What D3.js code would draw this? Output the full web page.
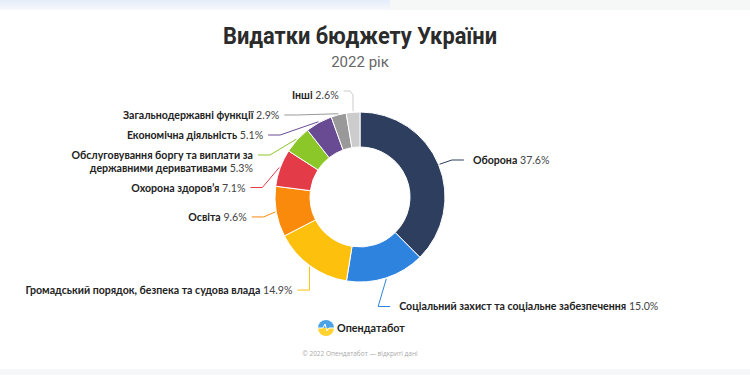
<!DOCTYPE html>
<html lang="uk">
<head>
<meta charset="UTF-8">
<title>Видатки бюджету України</title>
<script src="https://d3js.org/d3.v7.min.js"></script>
<style>
    body { margin: 0; background: #fff; }
    svg { display: block; }
    .title { font-family: Roboto, sans-serif; font-weight: 700; font-size: 23px; fill: #2b2b2b; }
    .subtitle { font-family: Roboto, sans-serif; font-size: 15px; fill: #666; }
    .lbl { font-family: Lato, sans-serif; font-size: 10.6px; fill: #222; }
    .lbl .name { font-weight: 700; }
    .lbl .pct { fill: #444; }
    .connector { fill: none; stroke-width: 1; }
    .brand { font-family: Lato, sans-serif; font-weight: 700; font-size: 10.8px; fill: #1e1e1e; }
    .copy { font-family: "Open Sans", sans-serif; font-size: 6.5px; fill: #aaa; }
</style>
</head>
<body>
<div id="chart"></div>
<script>
    // data
    const categories = [
        "Оборона",
        "Соціальний захист та соціальне забезпечення",
        "Громадський порядок, безпека та судова влада",
        "Освіта",
        "Охорона здоров’я",
        "Обслуговування боргу та виплати за державними деривативами",
        "Економічна діяльність",
        "Загальнодержавні функції",
        "Інші"
    ];
    const shares = [37.6, 15.0, 14.9, 9.6, 7.1, 5.3, 5.1, 2.9, 2.6];
    const colors = ["#2d3e5e", "#2d83dd", "#fdc10d", "#f98a0c", "#e43b49",
                    "#8cc72a", "#694b94", "#999999", "#cccccc"];

    const width = 750, height = 375;
    const cx = 360, cy = 197;
    const outerR = 85, innerR = 50;
    const labelR = 115;

    const svg = d3.select("#chart").append("svg")
        .attr("width", width).attr("height", height);

    // page bands
    const defs = svg.append("defs");
    const g1 = defs.append("linearGradient").attr("id", "topfade")
        .attr("x1", 0).attr("x2", 0).attr("y1", 0).attr("y2", 1);
    g1.append("stop").attr("offset", "0%").attr("stop-color", "#e3edf9");
    g1.append("stop").attr("offset", "100%").attr("stop-color", "#f7f9fc");
    svg.append("rect").attr("x", 0).attr("y", 0).attr("width", width).attr("height", 10).attr("fill", "#f6f7f7");
    svg.append("rect").attr("x", 0).attr("y", 0).attr("width", 390).attr("height", 10).attr("fill", "url(#topfade)");
    svg.append("rect").attr("x", 0).attr("y", 369).attr("width", width).attr("height", 6).attr("fill", "#f5f7f9");

    // titles
    svg.append("text").attr("class", "title")
        .attr("transform", `translate(${cx},44) scale(0.95,1)`)
        .attr("text-anchor", "middle").text("Видатки бюджету України");
    svg.append("text").attr("class", "subtitle")
        .attr("x", cx).attr("y", 67).attr("text-anchor", "middle").text("2022 рік");

    // donut
    const pie = d3.pie().sort(null).value(d => d);
    const arcs = pie(shares);
    const arc = d3.arc().innerRadius(innerR).outerRadius(outerR);
    const donut = svg.append("g").attr("transform", `translate(${cx},${cy})`);
    donut.selectAll("path").data(arcs).join("path")
        .attr("d", arc)
        .attr("fill", (d, i) => colors[i])
        .attr("stroke", "#fff").attr("stroke-width", 1);

    // label layout: natural point on label circle, then push apart vertically
    const measure = svg.append("text").attr("class", "lbl").attr("visibility", "hidden");
    function textW(str, bold) {
        measure.text(str).style("font-weight", bold ? 700 : 400);
        return measure.node().getComputedTextLength();
    }
    const lineH = 12.5;
    const items = arcs.map((a, i) => {
        const mid = (a.startAngle + a.endAngle) / 2;
        return {
            i, mid,
            left: Math.sin(mid) < 0,
            nx: cx + labelR * Math.sin(mid),
            ny: cy - labelR * Math.cos(mid),
            name: categories[i],
            pct: d3.format(".1f")(shares[i]) + "%"
        };
    });

    function placeSide(list, topY) {
        let prevBottom = topY;
        list.forEach(it => {
            it.y = Math.max(it.ny, prevBottom);
            const dy = Math.max(-labelR, Math.min(labelR, it.y - cy));
            const dx = Math.sqrt(labelR * labelR - dy * dy);
            it.x = it.left ? cx - dx : cx + dx;
            if (Math.abs(Math.sin(it.mid)) < 0.15) it.x = it.nx - 12;
            // wrap into lines when the label would run off the page edge
            const words = (it.name + " " + it.pct).split(" ");
            const maxW = it.left ? it.x - 12 : width - it.x - 12;
            const lines = [];
            let cur = [];
            words.forEach(w => {
                const test = cur.concat(w).join(" ");
                if (cur.length && textW(test, true) > maxW) { lines.push(cur); cur = [w]; }
                else cur.push(w);
            });
            lines.push(cur);
            it.lines = lines;
            it.y += (lines.length - 1) * lineH / 2;
            prevBottom = it.y + (lines.length - 1) * lineH / 2 + 20;
        });
    }
    const leftItems = items.filter(d => d.left).sort((a, b) => a.ny - b.ny);
    const rightItems = items.filter(d => !d.left).sort((a, b) => a.ny - b.ny);
    placeSide(leftItems, 95);
    placeSide(rightItems, 160);
    measure.remove();

    const labels = svg.append("g");
    items.forEach(it => {
        const n = it.lines.length;
        const t = labels.append("text").attr("class", "lbl")
            .attr("text-anchor", it.left ? "end" : "start");
        it.lines.forEach((ws, k) => {
            const line = t.append("tspan")
                .attr("x", it.x + (it.left ? 0 : 4))
                .attr("y", it.y - (n - 1) * lineH / 2 + k * lineH + 4);
            const nameWords = ws.filter(w => w !== it.pct);
            if (nameWords.length) line.append("tspan").attr("class", "name").text(nameWords.join(" "));
            if (ws.includes(it.pct)) line.append("tspan").attr("class", "pct").text((nameWords.length ? " " : "") + it.pct);
        });

        // connector: from label edge to the slice
        const sx = cx + (outerR + 1) * Math.sin(it.mid);
        const sy = cy - (outerR + 1) * Math.cos(it.mid);
        const ex = it.x + (it.left ? 5 : -5);
        const ey = it.y - (n - 1) * lineH / 2;
        let pts;
        if (Math.abs(Math.sin(it.mid)) < 0.15) {
            const vx = sx;
            pts = [[ex, ey - 4], [vx - 3, ey - 4], [vx, ey], [vx, sy]];
        } else {
            const bx = ex + (it.left ? 12 : -12);
            pts = [[ex, ey], [bx, ey], [sx, sy]];
        }
        labels.append("path").attr("class", "connector")
            .attr("stroke", colors[it.i])
            .attr("d", d3.line()(pts));
    });

    // footer logo
    const logo = svg.append("g").attr("transform", "translate(326,328)");
    logo.append("path").attr("d", d3.arc()({innerRadius: 0, outerRadius: 8, startAngle: -Math.PI / 2, endAngle: Math.PI / 2})).attr("fill", "#4aa3e6");
    logo.append("path").attr("d", d3.arc()({innerRadius: 0, outerRadius: 8, startAngle: Math.PI / 2, endAngle: 3 * Math.PI / 2})).attr("fill", "#ffd230");
    logo.append("path").attr("d", "M-8,0 L-3,0 L-1,-4 L1,3 L3,0 L8,0")
        .attr("fill", "none").attr("stroke", "#fff").attr("stroke-width", 1);
    svg.append("text").attr("class", "brand").attr("x", 337).attr("y", 332).text("Опендатабот");
    svg.append("text").attr("class", "copy").attr("x", cx).attr("y", 356)
        .attr("text-anchor", "middle").text("© 2022 Опендатабот — відкриті дані");
</script>
</body>
</html>
